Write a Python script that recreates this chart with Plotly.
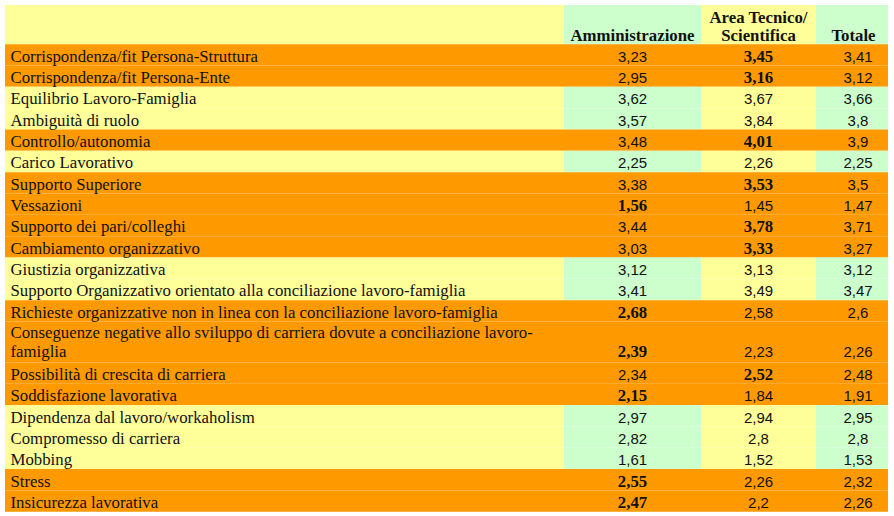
import plotly.graph_objects as go

labels = [
    "Corrispondenza/fit Persona-Struttura",
    "Corrispondenza/fit Persona-Ente",
    "Equilibrio Lavoro-Famiglia",
    "Ambiguità di ruolo",
    "Controllo/autonomia",
    "Carico Lavorativo",
    "Supporto Superiore",
    "Vessazioni",
    "Supporto dei pari/colleghi",
    "Cambiamento organizzativo",
    "Giustizia organizzativa",
    "Supporto Organizzativo orientato alla conciliazione lavoro-famiglia",
    "Richieste organizzative non in linea con la conciliazione lavoro-famiglia",
    "Conseguenze negative allo sviluppo di carriera dovute a conciliazione lavoro-<br>famiglia",
    "Possibilità di crescita di carriera",
    "Soddisfazione lavorativa",
    "Dipendenza dal lavoro/workaholism",
    "Compromesso di carriera",
    "Mobbing",
    "Stress",
    "Insicurezza lavorativa",
]
amministrazione = [3.23, 2.95, 3.62, 3.57, 3.48, 2.25, 3.38, 1.56, 3.44, 3.03, 3.12,
                   3.41, 2.68, 2.39, 2.34, 2.15, 2.97, 2.82, 1.61, 2.55, 2.47]
area_tecnico = [3.45, 3.16, 3.67, 3.84, 4.01, 2.26, 3.53, 1.45, 3.78, 3.33, 3.13,
                3.49, 2.58, 2.23, 2.52, 1.84, 2.94, 2.8, 1.52, 2.26, 2.2]
totale = [3.41, 3.12, 3.66, 3.8, 3.9, 2.25, 3.5, 1.47, 3.71, 3.27, 3.12,
          3.47, 2.6, 2.26, 2.48, 1.91, 2.95, 2.8, 1.53, 2.32, 2.26]
# righe evidenziate in arancione
critiche = [1, 1, 0, 0, 1, 0, 1, 1, 1, 1, 0, 0, 1, 1, 1, 1, 0, 0, 0, 1, 1]
headers = ["", "Amministrazione", "Area Tecnico/<br>Scientifica", "Totale"]

ORANGE = "#ff9900"
YELLOW = "#ffff99"
GREEN = "#ccffcc"
SERIF = "Liberation Serif"
SANS = "Liberation Sans"
FS_SERIF = 16.8
FS_SANS = 15
TXT = "#111111"

# geometria della tabella (pixel)
col_edges = [5, 564, 701, 816, 888]
val_cx = [632.5, 758.5, 858]
head_cx = [632.5, 758.5, 853.5]
label_x = 10.5
head_top, head_bot = 5, 44.2
row_h = 21.33
line_h = 19.0


def fmt(v):
    return ("%g" % v).replace(".", ",")


def mid_y(baseline, fs):
    # plotly 'middle' text: baseline = y + 0.25*fs
    return baseline - 0.25 * fs


# posizioni righe
tops, heights = [], []
y = head_bot
for lab in labels:
    nl = lab.count("<br>") + 1
    h = row_h + (nl - 1) * (line_h + 0.6)
    tops.append(y)
    heights.append(h)
    y += h

fig = go.Figure()

# sfondi celle (barre orizzontali)
for c in range(4):
    x0, x1 = col_edges[c], col_edges[c + 1]
    col_fill = []
    for i in range(len(labels)):
        if critiche[i]:
            col_fill.append(ORANGE)
        else:
            col_fill.append(GREEN if c in (1, 3) else YELLOW)
    ys = [head_top + (head_bot - head_top) / 2] + [t + h / 2 for t, h in zip(tops, heights)]
    ws = [head_bot - head_top] + heights
    hf = GREEN if c in (1, 3) else YELLOW
    fig.add_trace(go.Bar(
        orientation="h", y=ys, x=[x1 - x0] * len(ys), base=[x0] * len(ys),
        width=ws, marker=dict(color=[hf] + col_fill, line=dict(width=0)),
        hoverinfo="skip", showlegend=False,
    ))

# etichette
lx, ly, lt = [], [], []
for i, lab in enumerate(labels):
    lines = lab.split("<br>")
    base0 = tops[i] + (17.6 if len(lines) == 1 else 16.3)
    for k, s in enumerate(lines):
        lx.append(label_x)
        ly.append(mid_y(base0 + k * line_h, FS_SERIF))
        lt.append(s)
fig.add_trace(go.Scatter(
    x=lx, y=ly, text=lt, mode="text", textposition="middle right",
    textfont=dict(family=SERIF, size=FS_SERIF, color=TXT),
    hoverinfo="skip", showlegend=False,
))

# valori
vx, vy, vt, vf, vs = [], [], [], [], []
for i in range(len(labels)):
    a, t, tt = amministrazione[i], area_tecnico[i], totale[i]
    nl = labels[i].count("<br>") + 1
    base = tops[i] + (17.6 if nl == 1 else 16.3 + (nl - 1) * line_h)
    for c, v in enumerate((a, t, tt)):
        bold = critiche[i] and c < 2 and v == max(a, t)
        fs = FS_SERIF if bold else FS_SANS
        vx.append(val_cx[c])
        vy.append(mid_y(base, fs))
        vt.append("<b>%s</b>" % fmt(v) if bold else fmt(v))
        vf.append(SERIF if bold else SANS)
        vs.append(fs)
fig.add_trace(go.Scatter(
    x=vx, y=vy, text=vt, mode="text", textposition="middle center",
    textfont=dict(family=vf, size=vs, color=TXT),
    hoverinfo="skip", showlegend=False,
))

# intestazioni
hx, hy, ht = [], [], []
for c, h in enumerate(headers[1:]):
    lines = h.split("<br>")
    for k, s in enumerate(lines):
        hx.append(head_cx[c])
        hy.append(mid_y(40.8 - (len(lines) - 1 - k) * 18, FS_SERIF))
        ht.append("<b>%s</b>" % s)
fig.add_trace(go.Scatter(
    x=hx, y=hy, text=ht, mode="text", textposition="middle center",
    textfont=dict(family=SERIF, size=FS_SERIF, color=TXT),
    hoverinfo="skip", showlegend=False,
))

fig.update_layout(
    width=894, height=516, margin=dict(l=0, r=0, t=0, b=0),
    paper_bgcolor="white", plot_bgcolor="white", barmode="overlay",
    xaxis=dict(range=[0, 894], visible=False, fixedrange=True),
    yaxis=dict(range=[516, 0], visible=False, fixedrange=True),
)
# niente margine della pagina, il grafico occupa tutta la finestra
fig.write_html("out.html", config={"displayModeBar": False},
               post_script="document.body.style.margin='0';document.body.style.overflow='hidden';")
